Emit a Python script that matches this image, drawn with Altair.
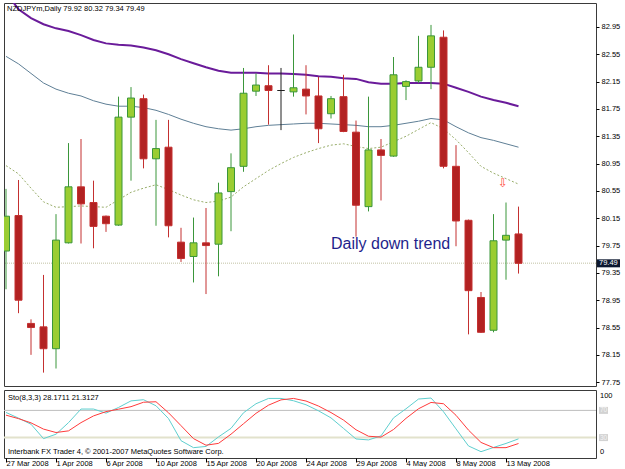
import altair as alt
import pandas as pd

# ---------------- data ----------------
symbol = "NZDJPYm"
timeframe = "Daily"

dates = ["27 Mar 2008", "28 Mar 2008", "30 Mar 2008", "31 Mar 2008", "1 Apr 2008", "2 Apr 2008",
         "3 Apr 2008", "4 Apr 2008", "6 Apr 2008", "7 Apr 2008", "8 Apr 2008", "9 Apr 2008",
         "10 Apr 2008", "11 Apr 2008", "13 Apr 2008", "14 Apr 2008", "15 Apr 2008", "16 Apr 2008",
         "17 Apr 2008", "18 Apr 2008", "20 Apr 2008", "21 Apr 2008", "22 Apr 2008", "23 Apr 2008",
         "24 Apr 2008", "25 Apr 2008", "27 Apr 2008", "28 Apr 2008", "29 Apr 2008", "30 Apr 2008",
         "1 May 2008", "2 May 2008", "4 May 2008", "5 May 2008", "6 May 2008", "7 May 2008",
         "8 May 2008", "9 May 2008", "11 May 2008", "12 May 2008", "13 May 2008", "14 May 2008"]

opens = [79.67, 80.19, 78.61, 78.56, 78.24, 79.79, 80.61, 80.38, 80.18, 80.05, 81.63, 81.90,
         81.02, 81.19, 79.80, 79.59, 79.79, 79.77, 80.54, 80.91, 82.01, 82.09, 82.02, 82.00,
         82.04, 81.94, 81.68, 81.93, 81.41, 80.32, 81.15, 81.06, 82.08, 82.16, 82.36, 82.80,
         80.91, 80.12, 78.99, 78.51, 79.83, 79.92]
highs = [80.58, 80.71, 78.67, 79.32, 80.21, 81.25, 81.31, 80.70, 80.19, 81.93, 82.07, 81.96,
         81.59, 81.59, 80.01, 80.16, 80.30, 80.67, 81.10, 82.35, 82.27, 82.39, 82.35, 82.84,
         82.39, 82.22, 81.94, 82.25, 81.58, 81.93, 81.31, 82.51, 82.17, 82.82, 82.98, 82.90,
         81.22, 80.13, 79.07, 80.21, 80.38, 80.32]
lows = [79.11, 78.76, 78.15, 77.89, 77.95, 79.78, 79.78, 79.71, 79.95, 80.04, 80.70, 80.88,
        80.04, 79.87, 79.51, 79.21, 79.04, 79.30, 79.96, 80.83, 81.94, 81.52, 81.44, 81.93,
        81.67, 81.25, 81.61, 81.41, 79.88, 80.25, 80.41, 81.05, 81.88, 82.13, 82.04, 80.88,
        79.74, 78.45, 78.47, 78.48, 79.25, 79.34]
closes = [80.18, 78.95, 78.55, 78.24, 79.83, 80.61, 80.36, 80.03, 80.07, 81.63, 81.91, 81.02,
          81.17, 80.04, 79.56, 79.79, 79.75, 80.52, 80.89, 81.98, 82.10, 82.02, 82.02, 82.06,
          81.94, 81.46, 81.90, 81.42, 80.34, 81.15, 81.07, 82.25, 82.15, 82.36, 82.82, 80.91,
          80.11, 79.09, 78.48, 79.82, 79.90, 79.49]

ma_slow = [83.45, 83.21, 83.08, 82.99, 82.93, 82.89, 82.83, 82.76, 82.71, 82.69, 82.68, 82.65,
           82.61, 82.55, 82.48, 82.42, 82.36, 82.31, 82.28, 82.28, 82.28, 82.27, 82.27, 82.26,
           82.25, 82.23, 82.22, 82.20, 82.19, 82.14, 82.12, 82.12, 82.13, 82.13, 82.13, 82.12,
           82.06, 82.00, 81.93, 81.88, 81.84, 81.79]
ma_mid = [82.52, 82.41, 82.27, 82.13, 82.04, 81.98, 81.94, 81.87, 81.82, 81.79, 81.79, 81.77,
          81.73, 81.67, 81.60, 81.54, 81.49, 81.46, 81.44, 81.46, 81.49, 81.51, 81.52, 81.53,
          81.54, 81.54, 81.53, 81.52, 81.51, 81.49, 81.49, 81.51, 81.54, 81.57, 81.61, 81.59,
          81.49, 81.40, 81.33, 81.29, 81.24, 81.19]
ma_fast = [80.92, 80.80, 80.59, 80.39, 80.31, 80.32, 80.33, 80.32, 80.31, 80.42, 80.53, 80.59,
           80.64, 80.57, 80.49, 80.42, 80.38, 80.40, 80.46, 80.61, 80.73, 80.85, 80.95, 81.04,
           81.11, 81.17, 81.22, 81.24, 81.20, 81.17, 81.19, 81.27, 81.35, 81.45, 81.55, 81.46,
           81.30, 81.11, 80.91, 80.81, 80.73, 80.65]

sto_params = (8, 3, 3)
sto_main = [67.0, 58.6, 49.7, 28.5, 35.0, 52.0, 72.0, 72.0, 66.0, 74.3, 84.0, 85.7,
            76.8, 58.0, 25.5, 15.2, 17.0, 31.0, 43.6, 66.5, 79.8, 87.6, 87.6, 84.2,
            78.3, 69.4, 59.0, 43.5, 28.0, 26.6, 32.5, 59.0, 72.4, 86.7, 88.2, 68.0,
            42.8, 17.7, 9.3, 15.5, 21.4, 28.1711]
sto_signal = [63.0, 57.9, 51.7, 42.5, 37.5, 39.9, 52.0, 61.9, 68.2, 71.8, 75.5, 82.0,
              82.7, 66.5, 47.6, 28.5, 18.8, 21.5, 35.0, 50.4, 65.7, 77.7, 85.5, 87.6,
              83.8, 76.4, 66.8, 55.8, 41.5, 32.0, 30.7, 41.9, 58.3, 72.4, 81.7, 79.8,
              62.8, 41.0, 22.9, 15.2, 15.2, 21.3127]
sto_levels = [70, 30]
sto_level_colors = ["#bdbdbd", "#e2e2cc"]
sto_max, sto_min = 100, 0

price_ticks = [82.95, 82.55, 82.15, 81.75, 81.35, 80.95, 80.55, 80.15, 79.75, 79.35,
               78.95, 78.55, 78.15, 77.75]
date_tick_idx = [0, 4, 8, 12, 16, 20, 24, 28, 32, 36, 40]
bid = [79.49]

annotation_text = ["Daily down trend"]
annotation_i = [26.0]
annotation_price = [79.70]
arrow_i = [39.76]
arrow_price = [80.67]
copyright_text = "Interbank FX Trader 4, \u00a9 2001-2007 MetaQuotes Software Corp."

# ---------------- layout / style ----------------
W = 592
H_MAIN = 383
H_SUB = 68
FONT = "Liberation Sans"
FS = 7.5

BULL_FILL, BULL_LINE = "#9acd32", "#3a963a"
BEAR_FILL, BEAR_LINE = "#b22222", "#c43030"
DOJI = "#202020"

n = len(dates)
df = pd.DataFrame({
    "i": list(range(n)), "date": dates, "open": opens, "high": highs, "low": lows,
    "close": closes, "ma_slow": ma_slow, "ma_mid": ma_mid, "ma_fast": ma_fast,
    "k": sto_main, "d": sto_signal,
})
df["dir"] = ["up" if c > o else ("down" if c < o else "flat") for o, c in zip(opens, closes)]

xs = alt.Scale(domain=[-0.16, 47.2], nice=False, zero=False, padding=0)
ys = alt.Scale(domain=[77.694, 83.301], nice=False, zero=False, padding=0)
dir_dom = ["up", "down", "flat"]
fill_scale = alt.Scale(domain=dir_dom, range=[BULL_FILL, BEAR_FILL, DOJI])
line_scale = alt.Scale(domain=dir_dom, range=[BULL_LINE, BEAR_LINE, DOJI])

X = alt.X("i:Q", scale=xs, axis=None, title=None)

yaxis = alt.Axis(orient="right", values=price_ticks, format=".2f", tickSize=3,
                 labelPadding=2, labelOverlap=False, labelBound=False, domain=False,
                 grid=False, title=None)


def Yp(field):
    return alt.Y(field, scale=ys, axis=yaxis, title=None)


bid_df = pd.DataFrame({"bid": bid})
bid_line = alt.Chart(bid_df).mark_rule(color="#d6d6c2", strokeWidth=1.5, strokeDash=[1, 1]).encode(
    y=Yp("bid:Q"))

ma1 = alt.Chart(df).mark_line(color="#6a1b9a", strokeWidth=2, clip=True).encode(
    x=X, y=Yp("ma_slow:Q"))
ma2 = alt.Chart(df).mark_line(color="#5f7f96", strokeWidth=1, clip=True).encode(
    x=X, y=Yp("ma_mid:Q"))
ma3 = alt.Chart(df).mark_line(color="#98ad6a", strokeWidth=1, strokeDash=[2, 2], clip=True).encode(
    x=X, y=Yp("ma_fast:Q"))

wicks = alt.Chart(df).mark_rule(strokeWidth=1, clip=True).encode(
    x=X, y=Yp("low:Q"), y2="high:Q",
    color=alt.Color("dir:N", scale=line_scale, legend=None))
bodies = alt.Chart(df).mark_bar(size=7, strokeWidth=1, clip=True).encode(
    x=X, y=Yp("open:Q"), y2="close:Q",
    fill=alt.Fill("dir:N", scale=fill_scale, legend=None),
    stroke=alt.Stroke("dir:N", scale=line_scale, legend=None))

ann_df = pd.DataFrame({"i": annotation_i, "p": annotation_price, "t": annotation_text})
ann = alt.Chart(ann_df).mark_text(font=FONT, fontSize=16, color="#1f1f8c", align="left",
                                  baseline="alphabetic").encode(
    x=X, y=Yp("p:Q"), text="t:N")

arrow_df = pd.DataFrame({"i": arrow_i, "p": arrow_price, "t": ["\u21e9"]})
arrow = alt.Chart(arrow_df).mark_text(font="DejaVu Sans", fontSize=12, color="#ff4a3a",
                                      align="center", baseline="middle").encode(
    x=X, y=Yp("p:Q"), text="t:N")

header = f"{symbol},{timeframe}  {opens[-1]:.2f} {highs[-1]:.2f} {lows[-1]:.2f} {closes[-1]:.2f}"
head_df = pd.DataFrame({"t": [header]})
head = alt.Chart(head_df).mark_text(font=FONT, fontSize=FS, color="#000000", align="left",
                                    baseline="middle").encode(
    x=alt.value(3), y=alt.value(6), text="t:N")

bid_box = alt.Chart(bid_df).mark_rule(color="#0c1830", strokeWidth=8).encode(
    x=alt.value(W + 1), x2=alt.value(W + 24), y=Yp("bid:Q"))
bid_txt = alt.Chart(bid_df).mark_text(font=FONT, fontSize=FS, color="#ffffff", align="left",
                                      baseline="middle").encode(
    x=alt.value(W + 3), y=Yp("bid:Q"), text=alt.Text("bid:Q", format=".2f"))

main = alt.layer(bid_line, ma1, ma2, ma3, wicks, bodies, ann, arrow, head, bid_box, bid_txt).properties(
    width=W, height=H_MAIN)

# ---------------- stochastic panel ----------------
sy = alt.Scale(domain=[sto_min, sto_max], nice=False, zero=False, padding=0)
label_expr = "[" + ",".join("'" + d + "'" for d in dates) + "][datum.value]"
xaxis = alt.Axis(orient="bottom", values=date_tick_idx, labelExpr=label_expr, labelAlign="left",
                 labelFlush=False, labelOverlap=False, labelPadding=-3, tickSize=4,
                 domain=False, grid=False, title=None)


def Ys(field):
    return alt.Y(field, scale=sy, axis=None, title=None)


SX = alt.X("i:Q", scale=xs, axis=xaxis, title=None)

lev_df = pd.DataFrame({"lev": sto_levels, "col": sto_level_colors, "w": [1, 2]})
lev_lines = alt.Chart(lev_df).mark_rule().encode(
    y=Ys("lev:Q"),
    color=alt.Color("col:N", scale=None, legend=None),
    strokeWidth=alt.StrokeWidth("w:Q", scale=None, legend=None))
lev_box = alt.Chart(lev_df).mark_rule(color="#d2d2d2", strokeWidth=7).encode(
    x=alt.value(W + 3), x2=alt.value(W + 12), y=Ys("lev:Q"))
lev_txt = alt.Chart(lev_df).mark_text(font=FONT, fontSize=6.5, color="#f4f4f4", align="left",
                                      baseline="middle").encode(
    x=alt.value(W + 4), y=Ys("lev:Q"), text="lev:Q")

scale_lab_df = pd.DataFrame({"top": [str(sto_max)], "bottom": [str(sto_min)]})
max_lab = alt.Chart(scale_lab_df).mark_text(font=FONT, fontSize=FS, color="#000000", align="left",
                                            baseline="middle").encode(
    x=alt.value(W + 4), y=alt.value(6), text="top:N")
min_lab = alt.Chart(scale_lab_df).mark_text(font=FONT, fontSize=FS, color="#000000", align="left",
                                            baseline="middle").encode(
    x=alt.value(W + 4), y=alt.value(H_SUB - 6), text="bottom:N")

kline = alt.Chart(df).mark_line(color="#5fcfcf", strokeWidth=1, clip=True).encode(
    x=SX, y=Ys("k:Q"))
dline = alt.Chart(df).mark_line(color="#ff3b3b", strokeWidth=1, clip=True).encode(
    x=SX, y=Ys("d:Q"))

sto_label = f"Sto({sto_params[0]},{sto_params[1]},{sto_params[2]}) {sto_main[-1]:.4f} {sto_signal[-1]:.4f}"
stxt_df = pd.DataFrame({"t": [sto_label], "c": [copyright_text]})
stxt = alt.Chart(stxt_df).mark_text(font=FONT, fontSize=FS, color="#000000", align="left",
                                    baseline="middle").encode(
    x=alt.value(4), y=alt.value(8), text="t:N")
ctxt = alt.Chart(stxt_df).mark_text(font=FONT, fontSize=FS, color="#000000", align="left",
                                    baseline="middle").encode(
    x=alt.value(4), y=alt.value(H_SUB - 6), text="c:N")

sub = alt.layer(lev_lines, kline, dline, lev_box, lev_txt, max_lab, min_lab, stxt, ctxt).properties(
    width=W, height=H_SUB)

chart = alt.vconcat(main, sub, spacing=2).properties(
    padding={"left": 2, "top": 2, "right": 0, "bottom": 0},
    background="#ffffff",
).configure_view(stroke="#3a3a3a", strokeWidth=1).configure_axis(
    labelFont=FONT, labelFontSize=FS, labelColor="#000000", tickColor="#000000",
    labelOverlap=False
)

chart.save("out.html", embed_options={"renderer": "svg", "actions": False})
